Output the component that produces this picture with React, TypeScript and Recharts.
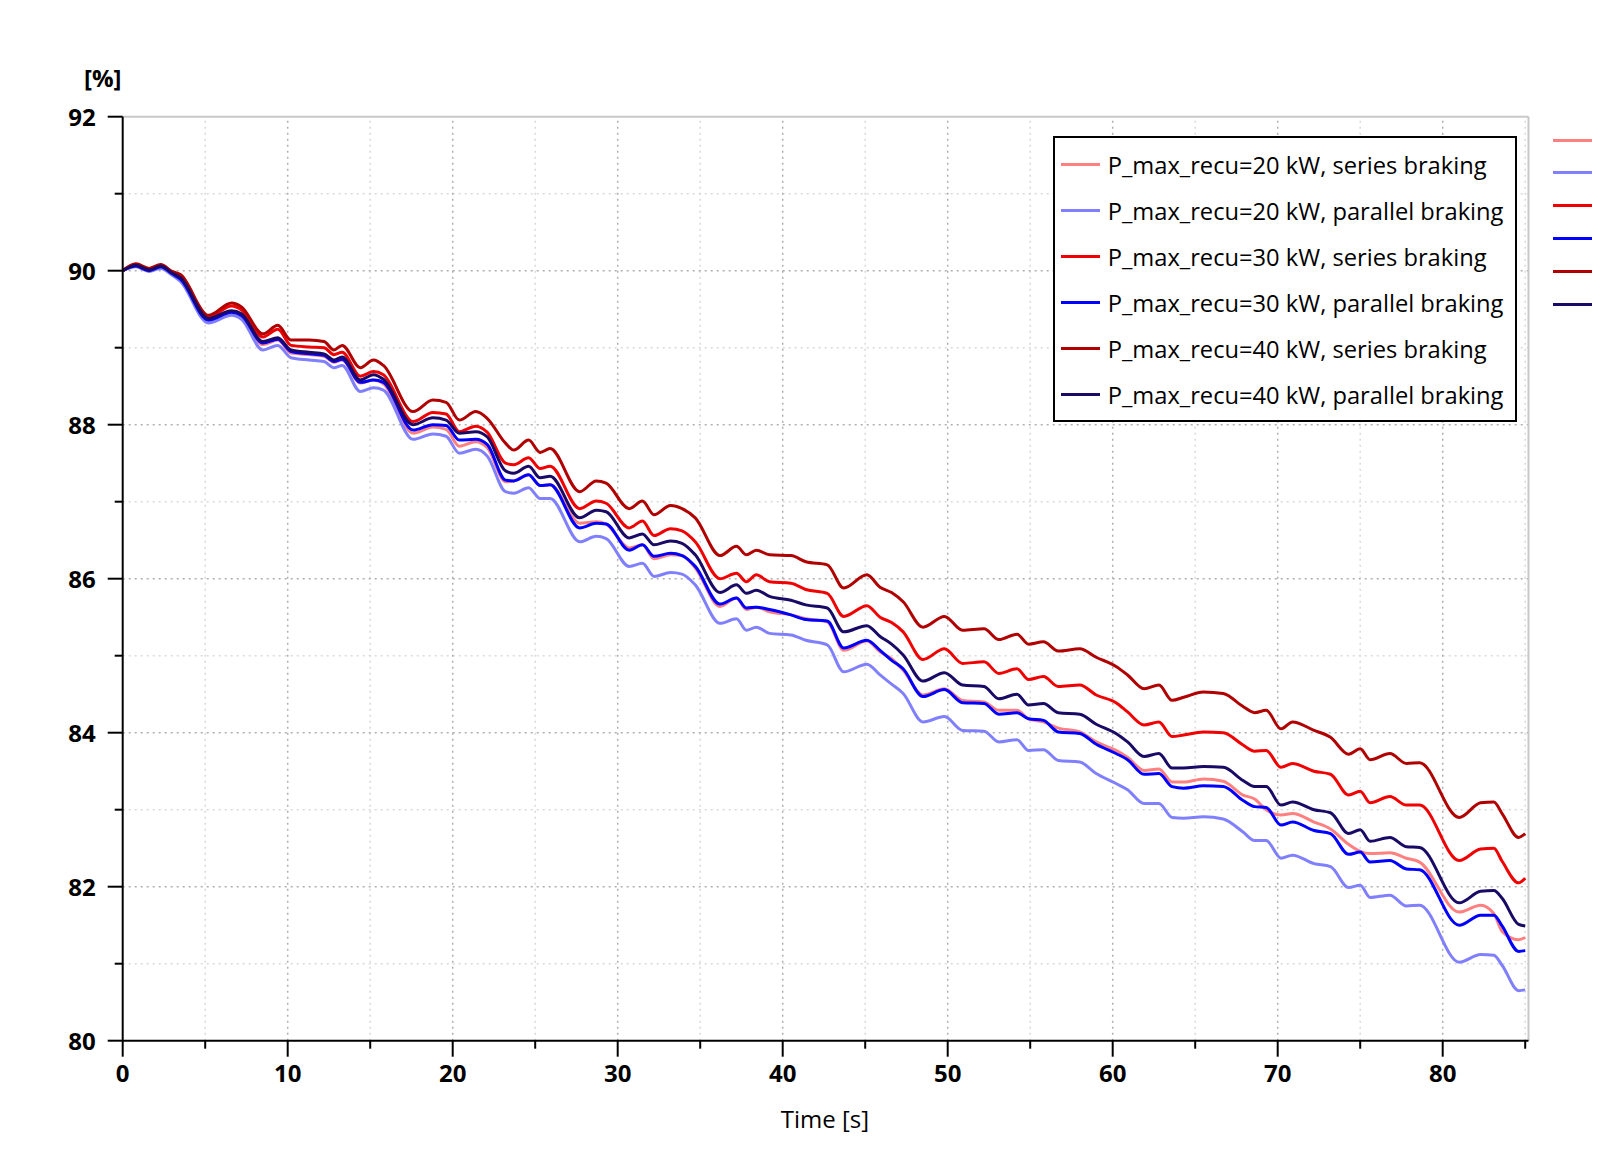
import React from 'react';
import { LineChart, Line, XAxis, YAxis, ReferenceLine } from 'recharts';

const TIME = [
  0, 0.8, 1.6, 2.3, 3.0, 3.5, 5.2, 6.6, 7.2, 8.5, 9.4, 10.2, 11.3, 12.2, 12.8, 13.3, 14.4, 15.2, 15.8,
  17.6, 18.8, 19.6, 20.4, 21.4, 22.1, 23.2, 23.7, 24.6, 25.3, 25.9, 27.7, 28.7, 29.3, 30.7, 31.5, 32.2,
  33.2, 33.9, 34.7, 36.2, 37.2, 37.8, 38.4, 39.2, 40.5, 41.4, 42.7, 43.7, 45.1, 45.9, 46.6, 47.3, 48.5,
  49.8, 50.9, 52.2, 53.1, 54.2, 54.9, 55.8, 56.7, 58.0, 59.0, 60.2, 60.9, 61.9, 62.8, 63.6, 64.3, 65.5,
  66.7, 67.9, 68.6, 69.3, 70.2, 70.9, 72.2, 73.2, 74.3, 75.0, 75.6, 76.8, 77.8, 78.6, 81.0, 82.3, 83.1,
  83.6, 84.6, 85.0,
];

const SERIES_20 = [
  90.0, 90.06, 90.0, 90.05, 89.96, 89.89, 89.35, 89.46, 89.41, 89.04, 89.1, 88.93, 88.91, 88.89, 88.81, 88.84, 88.54, 88.58, 88.53,
  87.89, 87.97, 87.94, 87.72, 87.78, 87.7, 87.26, 87.27, 87.35, 87.21, 87.22, 86.72, 86.74, 86.71, 86.4, 86.44, 86.26,
  86.31, 86.3, 86.14, 85.64, 85.75, 85.6, 85.63, 85.57, 85.53, 85.48, 85.44, 85.07, 85.19, 85.05, 84.96, 84.81, 84.49,
  84.57, 84.42, 84.4, 84.29, 84.29, 84.18, 84.14, 84.06, 84.01, 83.88, 83.77, 83.68, 83.51, 83.53, 83.36, 83.36, 83.4,
  83.37, 83.19, 83.14, 83.0, 82.93, 82.95, 82.84, 82.75, 82.55, 82.46, 82.43, 82.44, 82.37, 82.32, 81.67, 81.76, 81.65,
  81.42, 81.31, 81.34,
];
const PARALLEL_20 = [
  90.0, 90.05, 89.99, 90.03, 89.94, 89.86, 89.32, 89.42, 89.37, 88.97, 89.03, 88.87, 88.84, 88.82, 88.74, 88.77, 88.43, 88.48, 88.45,
  87.81, 87.88, 87.85, 87.63, 87.68, 87.59, 87.13, 87.11, 87.18, 87.04, 87.04, 86.48, 86.55, 86.52, 86.16, 86.2, 86.03,
  86.08, 86.06, 85.92, 85.42, 85.48, 85.33, 85.37, 85.29, 85.27, 85.2, 85.14, 84.79, 84.89, 84.75, 84.63, 84.51, 84.14,
  84.21, 84.03, 84.02, 83.88, 83.91, 83.77, 83.78, 83.64, 83.62, 83.47, 83.34, 83.26, 83.08, 83.08, 82.9, 82.89, 82.91,
  82.88, 82.71, 82.6, 82.6, 82.37, 82.41, 82.3, 82.26, 81.99, 82.02, 81.86, 81.89, 81.75, 81.76, 81.02, 81.12, 81.11,
  80.98, 80.65, 80.66,
];
const SERIES_30 = [
  90.0, 90.08, 90.02, 90.07, 89.98, 89.93, 89.4, 89.54, 89.49, 89.14, 89.24, 89.03, 89.01, 89.0, 88.91, 88.94, 88.63, 88.69, 88.65,
  88.04, 88.16, 88.14, 87.91, 87.98, 87.9, 87.5, 87.48, 87.57, 87.43, 87.46, 86.91, 87.01, 86.98, 86.66, 86.75, 86.56,
  86.65, 86.62, 86.48, 86.0, 86.07, 85.96, 86.05, 85.96, 85.94, 85.86, 85.81, 85.51, 85.65, 85.5, 85.43, 85.31, 84.95,
  85.09, 84.9, 84.92, 84.77, 84.83, 84.69, 84.73, 84.6, 84.62, 84.49, 84.39, 84.27, 84.1, 84.14, 83.95, 83.97, 84.01,
  84.0, 83.84, 83.76, 83.77, 83.55, 83.6, 83.5, 83.46, 83.19, 83.24, 83.09, 83.17, 83.06, 83.06, 82.34, 82.49, 82.5,
  82.33, 82.05, 82.11,
];
const PARALLEL_30 = [
  90.0, 90.06, 90.0, 90.05, 89.96, 89.89, 89.36, 89.46, 89.42, 89.06, 89.11, 88.95, 88.92, 88.9, 88.82, 88.85, 88.55, 88.58, 88.55,
  87.93, 88.0, 87.99, 87.8, 87.81, 87.74, 87.28, 87.27, 87.35, 87.21, 87.22, 86.66, 86.72, 86.71, 86.37, 86.44, 86.29,
  86.33, 86.3, 86.16, 85.67, 85.75, 85.62, 85.63, 85.6, 85.53, 85.47, 85.45, 85.1, 85.2, 85.07, 84.94, 84.83, 84.47,
  84.56, 84.39, 84.38, 84.24, 84.26, 84.18, 84.16, 84.01, 83.99, 83.85, 83.73, 83.65, 83.46, 83.47, 83.3, 83.28, 83.31,
  83.3, 83.12, 83.04, 83.03, 82.8, 82.84, 82.73, 82.69, 82.42, 82.45, 82.32, 82.34, 82.23, 82.22, 81.5, 81.63, 81.63,
  81.49, 81.16, 81.17,
];
const SERIES_40 = [
  90.0, 90.09, 90.03, 90.08, 89.99, 89.95, 89.42, 89.58, 89.53, 89.18, 89.29, 89.1, 89.1, 89.08, 88.97, 89.03, 88.74, 88.84, 88.77,
  88.17, 88.32, 88.29, 88.06, 88.17, 88.08, 87.76, 87.67, 87.8, 87.64, 87.69, 87.13, 87.27, 87.24, 86.91, 87.01, 86.83,
  86.95, 86.91, 86.79, 86.3, 86.42, 86.31, 86.37, 86.31, 86.3, 86.22, 86.18, 85.88, 86.05, 85.89, 85.82, 85.7, 85.37,
  85.51, 85.33, 85.35, 85.21, 85.28, 85.15, 85.18, 85.06, 85.09, 84.98, 84.86, 84.75, 84.57, 84.62, 84.42, 84.46, 84.53,
  84.51, 84.34, 84.26, 84.29, 84.05, 84.14, 84.03, 83.94, 83.72, 83.79, 83.65, 83.73, 83.6, 83.61, 82.9, 83.09, 83.1,
  82.95, 82.64, 82.69,
];
const PARALLEL_40 = [
  90.0, 90.07, 90.01, 90.06, 89.97, 89.91, 89.38, 89.48, 89.44, 89.08, 89.13, 88.97, 88.94, 88.92, 88.84, 88.88, 88.58, 88.65, 88.59,
  88.0, 88.09, 88.06, 87.89, 87.91, 87.84, 87.4, 87.37, 87.46, 87.31, 87.33, 86.79, 86.89, 86.87, 86.53, 86.58, 86.44,
  86.49, 86.46, 86.31, 85.82, 85.92, 85.81, 85.85, 85.77, 85.72, 85.66, 85.62, 85.31, 85.39, 85.25, 85.15, 85.01, 84.67,
  84.78, 84.62, 84.6, 84.44, 84.5, 84.36, 84.38, 84.26, 84.24, 84.11, 83.99, 83.88, 83.69, 83.73, 83.54, 83.54, 83.56,
  83.55, 83.38, 83.3, 83.3, 83.06, 83.1, 83.0, 82.96, 82.69, 82.74, 82.59, 82.64, 82.52, 82.51, 81.79, 81.94, 81.95,
  81.85, 81.51, 81.49,
];

const X_TICKS = [0, 5, 10, 15, 20, 25, 30, 35, 40, 45, 50, 55, 60, 65, 70, 75, 80, 85];
const Y_TICKS = [80, 81, 82, 83, 84, 85, 86, 87, 88, 89, 90, 91, 92];
const X_GRID_MAJOR = [10, 20, 30, 40, 50, 60, 70, 80];
const X_GRID_MINOR = [5, 15, 25, 35, 45, 55, 65, 75, 85];
const Y_GRID_MAJOR = [82, 84, 86, 88, 90];
const Y_GRID_MINOR = [81, 83, 85, 87, 89, 91];

const SERIES = [
  { key: 's20', label: 'P_max_recu=20 kW, series braking', color: '#ff8080', values: SERIES_20 },
  { key: 'p20', label: 'P_max_recu=20 kW, parallel braking', color: '#8080ff', values: PARALLEL_20 },
  { key: 's30', label: 'P_max_recu=30 kW, series braking', color: '#f00000', values: SERIES_30 },
  { key: 'p30', label: 'P_max_recu=30 kW, parallel braking', color: '#0000ff', values: PARALLEL_30 },
  { key: 's40', label: 'P_max_recu=40 kW, series braking', color: '#b00000', values: SERIES_40 },
  { key: 'p40', label: 'P_max_recu=40 kW, parallel braking', color: '#1a0a66', values: PARALLEL_40 },
];

const data = TIME.map((t, i) => {
  const row: Record<string, number> = { t };
  SERIES.forEach((s) => {
    row[s.key] = s.values[i];
  });
  return row;
});

const FONT = '"Open Sans", "Noto Sans", sans-serif';

const YTick = (props: any) => {
  const { x, y, payload } = props;
  const major = payload.value % 2 === 0;
  return (
    <g>
      <line x1={x - (major ? 15 : 8)} x2={x} y1={y} y2={y} stroke="#000" strokeWidth={2} />
      {major && (
        <text x={x - 27} y={y + 9} textAnchor="end" fontSize={24} fontWeight="bold" fontFamily={FONT} fill="#000">
          {payload.value}
        </text>
      )}
    </g>
  );
};

const XTick = (props: any) => {
  const { x, y, payload } = props;
  const major = payload.value % 10 === 0;
  return (
    <g>
      <line x1={x} x2={x} y1={y} y2={y + (major ? 16 : 8)} stroke="#000" strokeWidth={2} />
      {major && (
        <text x={x} y={y + 41} textAnchor="middle" fontSize={24} fontWeight="bold" fontFamily={FONT} fill="#000">
          {payload.value}
        </text>
      )}
    </g>
  );
};

export default function App() {
  return (
    <div style={{ position: 'relative', width: 1592, height: 1142, background: '#fff', fontFamily: FONT }}>
      <LineChart
        width={1592}
        height={1142}
        data={data}
        margin={{ top: 108.7, right: 71.5, bottom: 49.3, left: 0 }}
      >
        {X_GRID_MINOR.map((v) => (
          <ReferenceLine key={`xm${v}`} x={v} stroke="#d9d9d9" strokeWidth={1.5} strokeDasharray="2 4" />
        ))}
        {Y_GRID_MINOR.map((v) => (
          <ReferenceLine key={`ym${v}`} y={v} stroke="#d9d9d9" strokeWidth={1.5} strokeDasharray="2 4" />
        ))}
        {X_GRID_MAJOR.map((v) => (
          <ReferenceLine key={`xM${v}`} x={v} stroke="#afafaf" strokeWidth={1.5} strokeDasharray="2 4" />
        ))}
        {Y_GRID_MAJOR.map((v) => (
          <ReferenceLine key={`yM${v}`} y={v} stroke="#afafaf" strokeWidth={1.5} strokeDasharray="2 4" />
        ))}
        <ReferenceLine y={92} stroke="#c8c8c8" strokeWidth={2} />
        <ReferenceLine x={85.2} stroke="#c8c8c8" strokeWidth={2} />
        <XAxis
          type="number"
          dataKey="t"
          domain={[0, 85.2]}
          ticks={X_TICKS}
          interval={0}
          height={60}
          tickSize={0}
          tickMargin={0}
          tickLine={false}
          axisLine={{ stroke: '#000', strokeWidth: 2 }}
          tick={<XTick />}
          allowDataOverflow
        />
        <YAxis
          type="number"
          domain={[80, 92]}
          ticks={Y_TICKS}
          interval={0}
          width={114.7}
          tickSize={0}
          tickMargin={0}
          tickLine={false}
          axisLine={{ stroke: '#000', strokeWidth: 2 }}
          tick={<YTick />}
          allowDataOverflow
        />
        {SERIES.map((s) => (
          <Line
            key={s.key}
            type="monotone"
            dataKey={s.key}
            stroke={s.color}
            strokeWidth={3}
            dot={false}
            activeDot={false}
            isAnimationActive={false}
          />
        ))}
      </LineChart>

      <div style={{ position: 'absolute', left: 76, top: 55, fontSize: 24, fontWeight: 'bold', lineHeight: '30px' }}>[%]</div>
      <div style={{ position: 'absolute', left: 717, width: 200, textAlign: 'center', top: 1096, fontSize: 24, lineHeight: '30px' }}>
        Time [s]
      </div>

      <div
        style={{
          position: 'absolute',
          left: 1044.7,
          top: 127.7,
          width: 460,
          height: 282,
          border: '2px solid #000',
          background: '#fff',
        }}
      >
        {SERIES.map((s, i) => (
          <div key={s.key} style={{ position: 'absolute', left: 0, top: 27.3 + i * 46 - 15, height: 30, display: 'flex', alignItems: 'center' }}>
            <div style={{ marginLeft: 6, width: 39, height: 3, background: s.color }} />
            <div style={{ marginLeft: 8, fontSize: 23.7, whiteSpace: 'nowrap', lineHeight: '30px', color: '#000' }}>{s.label}</div>
          </div>
        ))}
      </div>

      {SERIES.map((s, i) => (
        <div
          key={`cut${s.key}`}
          style={{ position: 'absolute', left: 1544.7, top: 130.5 + i * 32.9, width: 50, height: 3, background: s.color }}
        />
      ))}
    </div>
  );
}
